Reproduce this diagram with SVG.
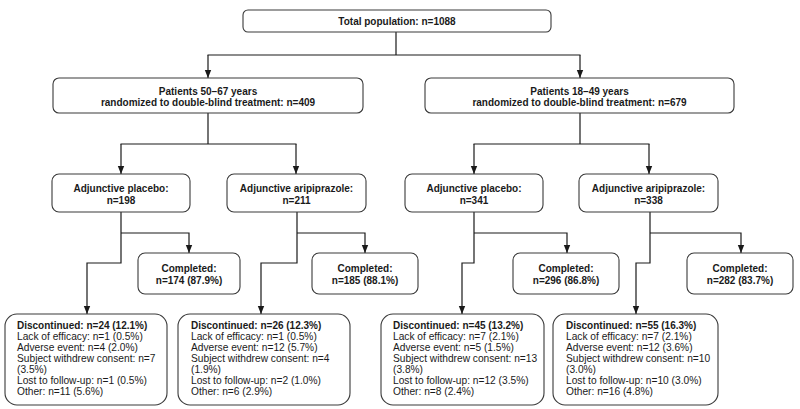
<svg xmlns="http://www.w3.org/2000/svg" width="800" height="409" viewBox="0 0 800 409">
<defs>
<marker id="arr" markerUnits="userSpaceOnUse" markerWidth="8" markerHeight="8" viewBox="0 0 8 8" refX="8" refY="4" orient="auto">
<path d="M0,0.8 L8,4 L0,7.2 Z" fill="#1a1a1a"/>
</marker>
<style>
.box{fill:#fff;stroke:#3a3a3a;stroke-width:1.1}
.b{font-family:"Liberation Sans",Arial,sans-serif;font-weight:bold;font-size:10px;fill:#1a1a1a;text-anchor:middle}
.bl{font-family:"Liberation Sans",Arial,sans-serif;font-weight:bold;font-size:10px;fill:#1a1a1a}
.r{font-family:"Liberation Sans",Arial,sans-serif;font-size:10.2px;fill:#1a1a1a}
.c{fill:none;stroke:#1a1a1a;stroke-width:1.2}
</style>
</defs>
<rect width="800" height="409" fill="#fff"/>
<g id="connectors">
<path class="c" d="M396 32 V55 M207.5 55 H580.5"/>
<path class="c" d="M208 55 V78" marker-end="url(#arr)"/>
<path class="c" d="M580 55 V78" marker-end="url(#arr)"/>
<path class="c" d="M208 113 V144 M120.5 144 H296.5"/>
<path class="c" d="M121 144 V174" marker-end="url(#arr)"/>
<path class="c" d="M296 144 V174" marker-end="url(#arr)"/>
<path class="c" d="M580 113 V144 M473.5 144 H649.5"/>
<path class="c" d="M474 144 V174" marker-end="url(#arr)"/>
<path class="c" d="M649 144 V174" marker-end="url(#arr)"/>
<path class="c" d="M121 212 V263 H87 V314" marker-end="url(#arr)"/>
<path class="c" d="M121 233 H189 V253" marker-end="url(#arr)"/>
<path class="c" d="M297 212 V263 H261 V314" marker-end="url(#arr)"/>
<path class="c" d="M297 233 H365 V253" marker-end="url(#arr)"/>
<path class="c" d="M474 212 V263 H462 V314" marker-end="url(#arr)"/>
<path class="c" d="M474 233 H567 V253" marker-end="url(#arr)"/>
<path class="c" d="M650 212 V263 H636 V314" marker-end="url(#arr)"/>
<path class="c" d="M650 233 H741 V253" marker-end="url(#arr)"/>
</g>
<g id="total">
<rect class="box" x="243" y="10" width="308" height="22" rx="5"/>
<text class="b" x="397" y="24.5">Total population: n=1088</text>
</g>
<g id="age50">
<rect class="box" x="53" y="78" width="310" height="35" rx="6"/>
<text class="b" x="208" y="94.5">Patients 50–67 years</text>
<text class="b" x="208" y="105.8">randomized to double-blind treatment: n=409</text>
</g>
<g id="age18">
<rect class="box" x="425" y="78" width="309" height="35" rx="6"/>
<text class="b" x="579.5" y="94.5">Patients 18–49 years</text>
<text class="b" x="579.5" y="105.8">randomized to double-blind treatment: n=679</text>
</g>
<g id="plc1">
<rect class="box" x="52" y="174" width="138" height="38" rx="7"/>
<text class="b" x="121" y="191.8">Adjunctive placebo:</text>
<text class="b" x="121" y="204.3">n=198</text>
</g>
<g id="ari1">
<rect class="box" x="227" y="174" width="139" height="38" rx="7"/>
<text class="b" x="296.5" y="191.8">Adjunctive aripiprazole:</text>
<text class="b" x="296.5" y="204.3">n=211</text>
</g>
<g id="plc2">
<rect class="box" x="405" y="174" width="138" height="38" rx="7"/>
<text class="b" x="474" y="191.8">Adjunctive placebo:</text>
<text class="b" x="474" y="204.3">n=341</text>
</g>
<g id="ari2">
<rect class="box" x="579" y="174" width="139" height="38" rx="7"/>
<text class="b" x="648.5" y="191.8">Adjunctive aripiprazole:</text>
<text class="b" x="648.5" y="204.3">n=338</text>
</g>
<g id="comp1">
<rect class="box" x="138" y="253" width="102" height="41" rx="7"/>
<text class="b" x="189" y="271.5">Completed:</text>
<text class="b" x="189" y="283.5">n=174 (87.9%)</text>
</g>
<g id="comp2">
<rect class="box" x="312" y="253" width="106" height="41" rx="7"/>
<text class="b" x="365" y="271.5">Completed:</text>
<text class="b" x="365" y="283.5">n=185 (88.1%)</text>
</g>
<g id="comp3">
<rect class="box" x="513" y="253" width="106" height="41" rx="7"/>
<text class="b" x="566" y="271.5">Completed:</text>
<text class="b" x="566" y="283.5">n=296 (86.8%)</text>
</g>
<g id="comp4">
<rect class="box" x="687" y="253" width="106" height="41" rx="7"/>
<text class="b" x="740" y="271.5">Completed:</text>
<text class="b" x="740" y="283.5">n=282 (83.7%)</text>
</g>
<g id="disc1">
<rect class="box" x="5" y="314" width="162" height="91" rx="12"/>
<text class="bl" x="17" y="329">Discontinued: n=24 (12.1%)</text>
<text class="r" x="17" y="340">Lack of efficacy: n=1 (0.5%)</text>
<text class="r" x="17" y="351">Adverse event: n=4 (2.0%)</text>
<text class="r" x="17" y="362">Subject withdrew consent: n=7</text>
<text class="r" x="17" y="373">(3.5%)</text>
<text class="r" x="17" y="384">Lost to follow-up: n=1 (0.5%)</text>
<text class="r" x="17" y="395">Other: n=11 (5.6%)</text>
</g>
<g id="disc2">
<rect class="box" x="178" y="314" width="172" height="91" rx="12"/>
<text class="bl" x="191" y="329">Discontinued: n=26 (12.3%)</text>
<text class="r" x="191" y="340">Lack of efficacy: n=1 (0.5%)</text>
<text class="r" x="191" y="351">Adverse event: n=12 (5.7%)</text>
<text class="r" x="191" y="362">Subject withdrew consent: n=4</text>
<text class="r" x="191" y="373">(1.9%)</text>
<text class="r" x="191" y="384">Lost to follow-up: n=2 (1.0%)</text>
<text class="r" x="191" y="395">Other: n=6 (2.9%)</text>
</g>
<g id="disc3">
<rect class="box" x="381" y="314" width="163" height="91" rx="12"/>
<text class="bl" x="393" y="329">Discontinued: n=45 (13.2%)</text>
<text class="r" x="393" y="340">Lack of efficacy: n=7 (2.1%)</text>
<text class="r" x="393" y="351">Adverse event: n=5 (1.5%)</text>
<text class="r" x="393" y="362">Subject withdrew consent: n=13</text>
<text class="r" x="393" y="373">(3.8%)</text>
<text class="r" x="393" y="384">Lost to follow-up: n=12 (3.5%)</text>
<text class="r" x="393" y="395">Other: n=8 (2.4%)</text>
</g>
<g id="disc4">
<rect class="box" x="553" y="314" width="165" height="91" rx="12"/>
<text class="bl" x="566" y="329">Discontinued: n=55 (16.3%)</text>
<text class="r" x="566" y="340">Lack of efficacy: n=7 (2.1%)</text>
<text class="r" x="566" y="351">Adverse event: n=12 (3.6%)</text>
<text class="r" x="566" y="362">Subject withdrew consent: n=10</text>
<text class="r" x="566" y="373">(3.0%)</text>
<text class="r" x="566" y="384">Lost to follow-up: n=10 (3.0%)</text>
<text class="r" x="566" y="395">Other: n=16 (4.8%)</text>
</g>
</svg>
